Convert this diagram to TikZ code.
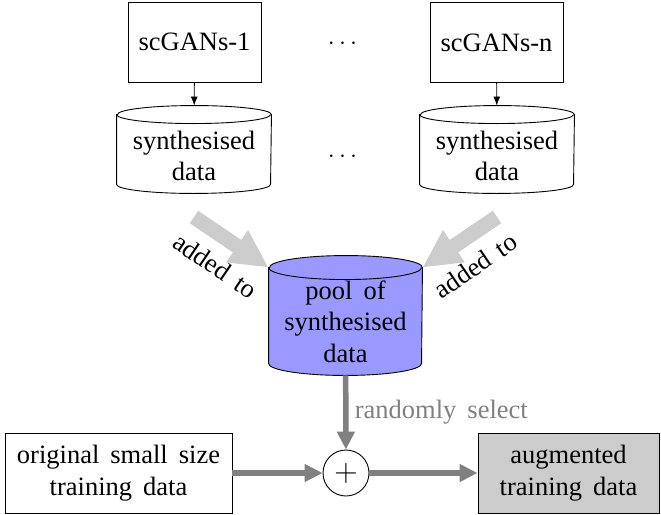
\documentclass[tikz,border=0pt]{standalone}
\usepackage{fontspec}
\setmainfont{Liberation Serif}
\usetikzlibrary{shapes.geometric,arrows.meta,calc}
\newcommand\myfigfont{\rmfamily\fontsize{26.5}{31.5}\selectfont\spaceskip=11pt plus 2pt minus 1pt\relax}
% cylinder outline around a named node: #1 node, #2 x radius, #3 y radius, #4 fill
\newcommand\mycylinder[4]{%
  \draw[fill=#4] ($(#1.north west)+(0pt,-#3)$) -- ($(#1.south west)+(0pt,#3)$)
    arc[start angle=180, end angle=360, x radius=#2, y radius=#3]
    -- ($(#1.north east)+(0pt,-#3)$)
    arc[start angle=0, end angle=180, x radius=#2, y radius=#3] -- cycle;
  \draw ($(#1.north west)+(0pt,-#3)$) arc[start angle=180, end angle=360, x radius=#2, y radius=#3];
}
\begin{document}
\begin{tikzpicture}[x=1pt,y=-1pt,
  font=\myfigfont, line width=0.9pt,
  gen/.style={draw, rectangle, minimum width=133pt, minimum height=80pt, inner sep=0pt},
  dbbody/.style={rectangle, minimum width=154pt, minimum height=87pt, inner sep=0pt},
  dbtext/.style={align=center, inner sep=0pt},
  databox/.style={draw, rectangle, minimum height=80pt, inner sep=0pt, align=center},
  thin arrow/.style={-{Latex[length=9pt,width=7pt]}},
  wide arrow/.style={draw=gray!40, line width=15pt, -{Triangle[width=36pt,length=38pt]}},
  flow arrow/.style={draw=gray, line width=5.5pt, -{Triangle[width=17pt,length=18pt]}}]
\useasboundingbox (0,0) rectangle (661,514);

\node[gen] (g1) at (194.5,42) {scGANs-1};
\node[gen] (gn) at (496.5,42.5) {scGANs-n};
\node (d1) at (342.5,44) {$\cdots$};

\node[dbbody] (c1) at (194,149.5) {};
\node[dbbody] (cn) at (497,149.5) {};
\mycylinder{c1}{77pt}{9pt}{white}
\mycylinder{cn}{77pt}{9pt}{white}
\node[dbtext] (c1t) at (194,156) {synthesised\\data};
\node[dbtext] (cnt) at (497,156) {synthesised\\data};
\node (d2) at (342.5,157) {$\cdots$};

\draw[thin arrow] (g1) -- (c1);
\draw[thin arrow] (gn) -- (cn);

\node[dbbody, minimum width=153pt, minimum height=119pt] (pool) at (345.5,315.5) {};
\mycylinder{pool}{76.5pt}{12pt}{blue!40}
\node[dbtext] (poolt) at (345.5,321.5) {pool of\\synthesised\\data};

\coordinate (s1) at (194,217);
\coordinate (sn) at (497,217);
\coordinate (t1) at ($(pool.north west)+(0pt,-12pt)$);
\coordinate (tn) at ($(pool.north east)+(0pt,-12pt)$);
\draw[wide arrow] (s1) -- (t1) node[midway, sloped, below=8pt] (a1) {added to};
\draw[wide arrow] (sn) -- (tn) node[midway, sloped, below=8pt] (an) {added to};

\node[draw, circle, minimum size=46pt, inner sep=0pt] (plus) at (346,473) {\scalebox{1.3}{$+$}};
\node[databox, minimum width=227pt] (orig) at (118.5,473) {original small size\\training data};
\node[databox, minimum width=181pt, fill=gray!40] (aug) at (568.5,473) {augmented\\training data};

\draw[flow arrow] (pool) -- (plus) node[midway, right, xshift=3pt, text=gray] (rs) {randomly select};
\draw[flow arrow] (orig) -- (plus);
\draw[flow arrow] (plus) -- (aug);
\end{tikzpicture}
\end{document}
